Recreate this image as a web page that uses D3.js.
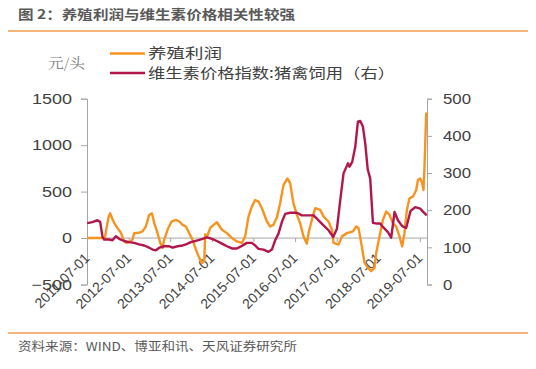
<!DOCTYPE html>
<html><head><meta charset="utf-8">
<script src="https://cdn.jsdelivr.net/npm/d3@7"></script>
<style>html,body{margin:0;padding:0;background:#fff;}svg{display:block;}</style>
</head><body><svg id="c" width="536" height="369"></svg>
<script>
// ---- data ----
const titleText = "图 2：养殖利润与维生素价格相关性较强";
const sourceText = "资料来源：WIND、博亚和讯、天风证券研究所";
const unitText = "元/头";
const seriesNames = ["养殖利润", "维生素价格指数:猪禽饲用（右）"];
const xTickLabels = ["2011-07-01","2012-07-01","2013-07-01","2014-07-01","2015-07-01","2016-07-01","2017-07-01","2018-07-01","2019-07-01"];
const leftTicks = [-500, 0, 500, 1000, 1500];
const rightTicks = [0, 100, 200, 300, 400, 500];

// profit (元/头), time as decimal year
const profitTime = [2011.500,2011.926,2011.969,2012.017,2012.053,2012.101,2012.149,2012.228,2012.310,2012.389,2012.454,2012.510,2012.589,2012.630,2012.750,2012.829,2012.911,2012.990,2013.055,2013.111,2013.190,2013.255,2013.310,2013.351,2013.430,2013.526,2013.632,2013.712,2013.791,2013.873,2013.952,2014.031,2014.113,2014.192,2014.257,2014.313,2014.337,2014.385,2014.457,2014.536,2014.618,2014.738,2014.858,2014.978,2015.099,2015.219,2015.298,2015.377,2015.459,2015.538,2015.618,2015.700,2015.820,2015.899,2015.978,2016.060,2016.139,2016.219,2016.315,2016.380,2016.459,2016.541,2016.620,2016.700,2016.781,2016.825,2016.901,2016.981,2017.101,2017.180,2017.300,2017.382,2017.421,2017.541,2017.623,2017.743,2017.887,2017.966,2018.022,2018.087,2018.166,2018.248,2018.327,2018.406,2018.447,2018.526,2018.608,2018.688,2018.767,2018.849,2018.928,2019.007,2019.072,2019.127,2019.185,2019.248,2019.329,2019.409,2019.450,2019.505,2019.553,2019.584,2019.608,2019.649,2019.666];
const profitValue = [0,0,120,230,267,210,164,107,57,-36,-53,-45,-18,53,57,71,124,249,267,160,53,-53,-107,-18,89,178,196,178,142,124,53,-18,-125,-214,-267,-250,40,20,110,142,170,89,53,0,-36,-53,18,231,338,410,392,321,178,124,142,220,374,570,642,588,374,249,160,18,-60,60,196,321,303,231,178,89,-53,-71,18,53,71,124,107,-53,-267,-321,-357,-321,-160,18,196,285,249,160,124,18,-89,53,303,428,445,517,624,642,588,517,763,1337,1350];

// vitamin price index (right axis)
const vitTime = [2011.500,2011.627,2011.748,2011.813,2011.868,2011.909,2012.029,2012.108,2012.190,2012.269,2012.389,2012.510,2012.630,2012.750,2012.870,2012.990,2013.070,2013.151,2013.231,2013.351,2013.471,2013.550,2013.671,2013.791,2013.873,2013.993,2014.151,2014.272,2014.377,2014.498,2014.618,2014.738,2014.858,2014.978,2015.099,2015.219,2015.339,2015.459,2015.538,2015.618,2015.738,2015.858,2015.940,2016.019,2016.099,2016.180,2016.260,2016.380,2016.541,2016.661,2016.781,2016.940,2017.022,2017.101,2017.180,2017.300,2017.413,2017.502,2017.582,2017.661,2017.767,2017.805,2017.870,2017.942,2018.007,2018.063,2018.127,2018.183,2018.243,2018.303,2018.368,2018.464,2018.543,2018.608,2018.728,2018.808,2018.887,2018.969,2019.072,2019.168,2019.272,2019.385,2019.505,2019.584,2019.661];
const vitValue = [165,168,173,168,128,121,121,119,130,123,117,114,112,108,105,99,94,92,99,103,103,99,103,105,108,114,119,123,127,123,117,110,103,97,97,104,112,112,105,96,94,88,94,119,137,168,190,193,193,186,186,186,177,168,159,146,128,150,227,299,326,317,330,370,438,440,425,380,310,285,166,164,164,155,141,126,195,173,157,152,198,208,204,195,186];

// ---- drawing ----
const svg = d3.select("#c");
const ORANGE = "#F7931E", RED = "#B2164A", AXIS = "#A6A6A6", TXT = "#404040";
const fontLat = "'Liberation Sans', Arial, 'Noto Sans CJK SC', sans-serif";
const fontCJK = "'Noto Sans CJK SC', 'Liberation Sans', sans-serif";

function decToDate(t){ const y = Math.floor(t); const start = new Date(y,0,1); return new Date(start.getTime() + (t-y)*365.25*864e5); }
const parse = d3.timeParse("%Y-%m-%d");
const fit = (sel, w) => sel.attr("textLength", w).attr("lengthAdjust", "spacingAndGlyphs");
const stretch = (sel, f) => sel.each(function(){ const L = this.getComputedTextLength(); d3.select(this).attr("textLength", L*f).attr("lengthAdjust","spacingAndGlyphs"); });

const x = d3.scaleTime().domain([parse(xTickLabels[0]), parse(xTickLabels[xTickLabels.length-1])]).range([87, 419.8]);
const yL = d3.scaleLinear().domain([-500, 1500]).range([284.5, 98.7]);
const yR = d3.scaleLinear().domain([0, 500]).range([284.5, 98.7]);

// title + rules
fit(svg.append("text").attr("x", 18).attr("y", 19).attr("font-family", fontCJK).attr("font-weight", "bold")
  .attr("font-size", 13).attr("fill", "#595959").text(titleText), 277);
svg.append("line").attr("x1", 8).attr("x2", 528).attr("y1", 31).attr("y2", 31).attr("stroke", "#F29B4C").attr("stroke-width", 1.5);
svg.append("line").attr("x1", 8).attr("x2", 528).attr("y1", 333).attr("y2", 333).attr("stroke", "#F29B4C").attr("stroke-width", 1.5);
fit(svg.append("text").attr("x", 18).attr("y", 351).attr("font-family", fontCJK)
  .attr("font-size", 12).attr("fill", "#595959").text(sourceText), 279);

// zero gridline
svg.append("line").attr("x1", 87).attr("x2", 427).attr("y1", yL(0)).attr("y2", yL(0)).attr("stroke", AXIS).attr("stroke-width", 1);

// left axis
const gL = svg.append("g").attr("transform", "translate(87,0)")
  .call(d3.axisLeft(yL).tickValues(leftTicks).tickSize(6).tickPadding(9).tickFormat(d3.format("d")));
gL.select(".domain").attr("stroke", AXIS);
gL.selectAll(".tick line").attr("stroke", AXIS);
gL.selectAll("text").attr("font-family", fontLat).attr("font-size", 15).attr("fill", TXT).call(stretch, 1.2);

// right axis
const gR = svg.append("g").attr("transform", "translate(427,0)")
  .call(d3.axisRight(yR).tickValues(rightTicks).tickSize(5).tickPadding(11).tickFormat(d3.format("d")));
gR.select(".domain").attr("stroke", AXIS);
gR.selectAll(".tick line").attr("stroke", AXIS);
gR.selectAll("text").attr("font-family", fontLat).attr("font-size", 15).attr("fill", TXT).call(stretch, 1.12);

// x axis (ticks on zero line, rotated labels)
const gX = svg.append("g").attr("transform", `translate(0,${yL(0)})`)
  .call(d3.axisBottom(x).tickValues(xTickLabels.map(parse)).tickSize(4).tickFormat(d3.timeFormat("%Y-%m-%d")));
gX.select(".domain").remove();
gX.selectAll(".tick line").attr("stroke", AXIS);
gX.selectAll(".tick text").attr("font-family", fontLat).attr("font-size", 14).attr("fill", TXT)
  .attr("text-anchor", "end").attr("dy", null).attr("y", 0).attr("x", 0)
  .attr("transform", "translate(3,21) rotate(-45)");

// lines
const profit = profitTime.map((t,i) => ({d: decToDate(t), v: profitValue[i]}));
const vit = vitTime.map((t,i) => ({d: decToDate(t), v: vitValue[i]}));
svg.append("path").datum(profit).attr("fill", "none").attr("stroke", ORANGE).attr("stroke-width", 2.4)
  .attr("stroke-linejoin", "round").attr("d", d3.line().x(d => x(d.d)).y(d => yL(d.v)));
svg.append("path").datum(vit).attr("fill", "none").attr("stroke", RED).attr("stroke-width", 2.4)
  .attr("stroke-linejoin", "round").attr("d", d3.line().x(d => x(d.d)).y(d => yR(d.v)));

// unit label
fit(svg.append("text").attr("x", 48).attr("y", 68).attr("font-family", "'Noto Serif CJK SC','Noto Sans CJK SC',serif")
  .attr("font-size", 14).attr("fill", "#7F7F7F").text(unitText), 37);

// legend
const legY = [53.5, 73], textY = [57.5, 77.5], legW = [74, 247];
seriesNames.forEach((n, i) => {
  svg.append("line").attr("x1", 110).attr("x2", 145).attr("y1", legY[i]).attr("y2", legY[i])
    .attr("stroke", i === 0 ? ORANGE : RED).attr("stroke-width", 2.4);
  fit(svg.append("text").attr("x", 148).attr("y", textY[i] ).attr("font-family", fontCJK)
    .attr("font-size", 14).attr("fill", TXT).text(n), legW[i]);
});
</script></body></html>
